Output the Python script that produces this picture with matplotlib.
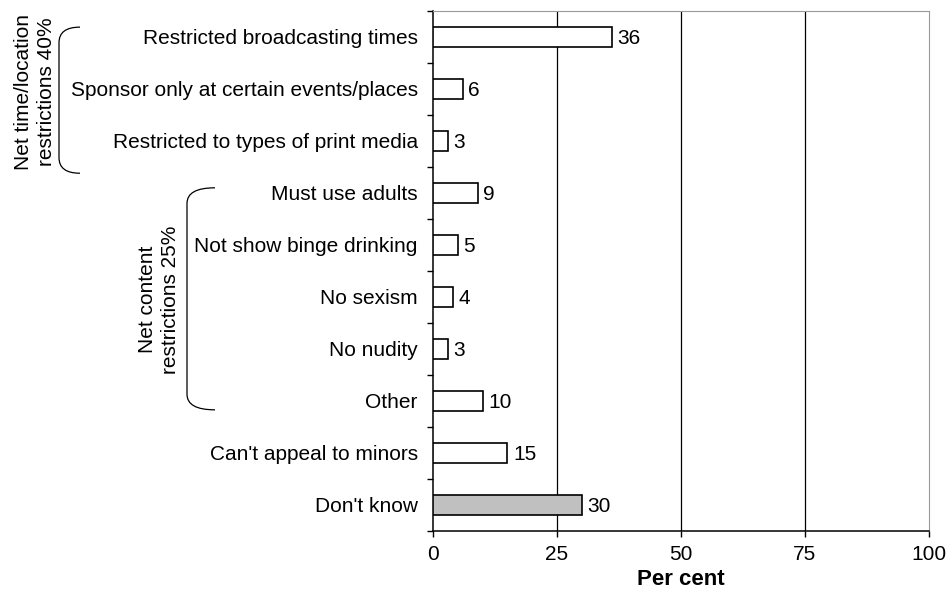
import numpy as np
import matplotlib.pyplot as plt
from matplotlib.path import Path
from matplotlib.patches import PathPatch
from matplotlib.transforms import blended_transform_factory

plt.rcParams['font.family'] = ['Liberation Sans', 'DejaVu Sans']

categories = [
    "Restricted broadcasting times",
    "Sponsor only at certain events/places",
    "Restricted to types of print media",
    "Must use adults",
    "Not show binge drinking",
    "No sexism",
    "No nudity",
    "Other",
    "Can't appeal to minors",
    "Don't know",
]
values = [36, 6, 3, 9, 5, 4, 3, 10, 15, 30]
fills = ["white"] * 9 + ["#c0c0c0"]

groups = [
    ("Net time/location\nrestrictions 40%", 0, 2),
    ("Net content\nrestrictions 25%", 3, 7),
]

FS = 15
W, H = 949, 605
fig = plt.figure(figsize=(W / 100, H / 100), dpi=100)
ax = fig.add_axes([433 / W, 1 - 531 / H, (929 - 433) / W, (531 - 11) / H])

y = np.arange(len(categories))
ax.barh(y, values, height=0.4, color=fills, edgecolor="black", linewidth=1.2, zorder=3)
for yi, v in zip(y, values):
    ax.annotate(str(v), (v, yi), xytext=(4, -1), textcoords="offset points",
                va="center", ha="left", fontsize=FS, zorder=4)

ax.set_xlim(0, 100)
ax.set_ylim(len(categories) - 0.5, -0.5)
ax.set_xticks([0, 25, 50, 75, 100])
ax.set_yticks(y)
ax.set_yticklabels(categories)
ax.set_yticks(np.arange(-0.5, len(categories)), minor=True)
ax.tick_params(axis="y", which="major", length=0, pad=11, labelsize=FS)
ax.tick_params(axis="y", which="minor", length=4, width=1, color="black")
ax.tick_params(axis="x", length=4, width=1, pad=6, labelsize=FS)

for xv in [25, 50, 75]:
    ax.axvline(xv, color="black", linewidth=0.9, zorder=1)
for side in ["top", "right"]:
    ax.spines[side].set_color("#999999")
for side in ["left", "bottom"]:
    ax.spines[side].set_color("black")
    ax.spines[side].set_linewidth(1.1)

ax.set_xlabel("Per cent", fontsize=16, fontweight="bold", labelpad=4)

# brackets grouping the restriction categories
trans = blended_transform_factory(fig.transFigure, ax.transData)
brackets = [(80, 59, -0.19, 2.62, 35), (215, 187, 2.9, 7.17, 159)]
for (label, first, last), (xe, xv, ytop, ybot, xt) in zip(groups, brackets):
    xe, xv = xe / W, xv / W
    verts = [(xe, ytop), (xv, ytop), (xv, ytop + 0.3),
             (xv, ybot - 0.3), (xv, ybot), (xe, ybot)]
    codes = [Path.MOVETO, Path.CURVE3, Path.CURVE3,
             Path.LINETO, Path.CURVE3, Path.CURVE3]
    fig.add_artist(PathPatch(Path(verts, codes), transform=trans, fill=False,
                             edgecolor="black", linewidth=0.9, clip_on=False))
    fig.text(xt / W, (first + last) / 2 + 0.05, label, transform=trans, rotation=90,
             ha="center", va="center", fontsize=FS, linespacing=1.25)

fig.savefig("out.png", dpi=100)
